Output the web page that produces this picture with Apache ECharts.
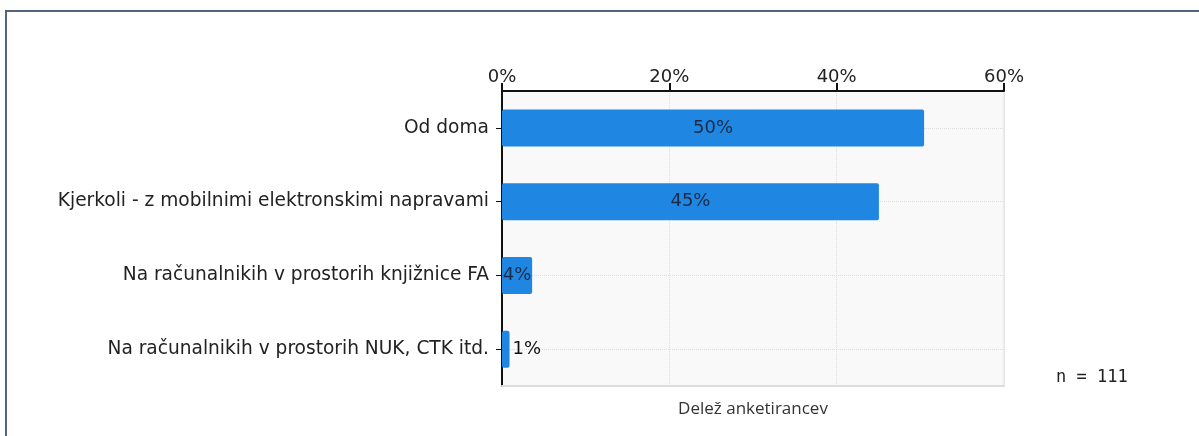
<!DOCTYPE html>
<html>
<head>
<meta charset="utf-8">
<script src="https://cdn.jsdelivr.net/npm/echarts@6/dist/echarts.min.js"></script>
<style>
html, body { margin: 0; padding: 0; background: #fff; }
#main { width: 1199px; height: 436px; }
</style>
</head>
<body>
<div id="main"></div>
<script>
var categories = ['Od doma', 'Kjerkoli - z mobilnimi elektronskimi napravami', 'Na računalnikih v prostorih knjižnice FA', 'Na računalnikih v prostorih NUK, CTK itd.'];
var values = [50.45, 45.05, 3.6, 0.9];
var labels = ['50%', '45%', '4%', '1%'];
var tickValues = [0, 20, 40, 60];
var nText = 'n = 111';
var axisName = 'Delež anketirancev';

var dom = document.getElementById('main');
var myChart = echarts.init(dom);

var barData = [];
for (var i = 0; i < values.length; i++) {
    var inside = i < 3;
    barData.push({
        value: values[i],
        label: {
            position: inside ? 'inside' : 'right',
            color: inside ? '#1b2a48' : '#111',
            distance: 3,
            formatter: labels[i]
        }
    });
}

var centerLines = [];
for (var j = 0; j < categories.length; j++) {
    centerLines.push({ yAxis: categories[j] });
}

var option = {
    animation: false,
    textStyle: { fontFamily: 'DejaVu Sans' },
    grid: {
        left: 502, right: 195, top: 91, bottom: 50,
        show: true,
        backgroundColor: '#f9f9f9',
        borderColor: '#dcdcdc',
        borderWidth: 1
    },
    xAxis: [{
        type: 'value',
        position: 'top',
        min: tickValues[0], max: tickValues[tickValues.length - 1], interval: 20,
        axisLine: { show: true, lineStyle: { color: '#111', width: 2 } },
        axisTick: { show: true, length: 8, lineStyle: { color: '#111', width: 2 } },
        axisLabel: { color: '#222', fontSize: 18, margin: 5, formatter: '{value}%' },
        splitLine: { show: true, lineStyle: { color: '#dedede', type: 'dotted' } }
    }, {
        type: 'value',
        position: 'bottom',
        min: 0, max: 60,
        name: axisName,
        nameLocation: 'middle',
        nameGap: 15,
        nameTextStyle: { fontFamily: 'Open Sans', fontSize: 17, color: '#333' },
        axisLine: { show: true, lineStyle: { color: '#dcdcdc', width: 2 } },
        axisTick: { show: false },
        axisLabel: { show: false },
        splitLine: { show: false }
    }],
    yAxis: {
        type: 'category',
        inverse: true,
        data: categories,
        axisLine: { show: true, lineStyle: { color: '#111', width: 2 } },
        axisTick: { show: true, alignWithLabel: true, length: 6, lineStyle: { color: '#111' } },
        axisLabel: { color: '#222', fontSize: 18.6, margin: 13 },
        splitLine: { show: false }
    },
    series: [{
        type: 'line',
        data: [],
        z: 1,
        silent: true,
        markLine: {
            silent: true,
            symbol: 'none',
            label: { show: false },
            z: 1,
            lineStyle: { color: '#dcdcdc', type: 'dotted', width: 1 },
            data: centerLines
        }
    }, {
        type: 'bar',
        z: 10,
        data: barData,
        barWidth: 37,
        itemStyle: { color: '#1f87e2', borderRadius: 2 },
        label: { show: true, fontSize: 18 }
    }],
    graphic: [{
        type: 'line',
        shape: { x1: 5, y1: 11, x2: 1199, y2: 11 },
        style: { stroke: '#536480', lineWidth: 2 }
    }, {
        type: 'line',
        shape: { x1: 6, y1: 10, x2: 6, y2: 436 },
        style: { stroke: '#536480', lineWidth: 2 }
    }, {
        type: 'text',
        left: 1056,
        top: 369,
        style: { text: nText, font: '17px "DejaVu Sans Mono"', fill: '#222' }
    }]
};

if (option && typeof option === "object") {
    myChart.setOption(option, true);
}
</script>
</body>
</html>
